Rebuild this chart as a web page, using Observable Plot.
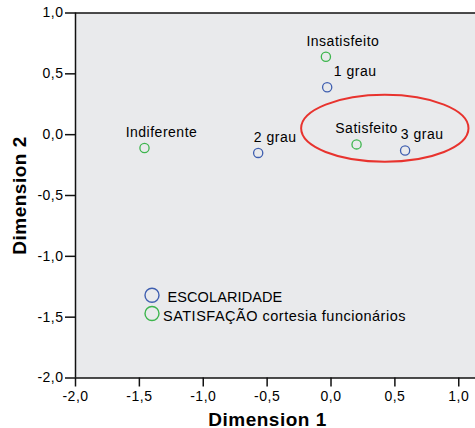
<!DOCTYPE html>
<html>
<head>
<meta charset="utf-8">
<script src="https://cdn.jsdelivr.net/npm/d3@7"></script>
<script src="https://cdn.jsdelivr.net/npm/@observablehq/plot@0.6"></script>
<style>
  html, body { margin: 0; padding: 0; background: #fff; }
  svg text { letter-spacing: 0.5px; }
</style>
</head>
<body>
<div id="chart"></div>
<script>
// ---- data ----
const escolaridadeLabels = ["1 grau", "2 grau", "3 grau"];
const escolaridadeDim1 = [-0.03, -0.57, 0.58];
const escolaridadeDim2 = [0.39, -0.15, -0.13];

const satisfacaoLabels = ["Insatisfeito", "Indiferente", "Satisfeito"];
const satisfacaoDim1 = [-0.04, -1.46, 0.20];
const satisfacaoDim2 = [0.64, -0.11, -0.08];

const seriesNames = ["ESCOLARIDADE", "SATISFAÇÃO cortesia funcionários"];
const xTicks = [-2.0, -1.5, -1.0, -0.5, 0.0, 0.5, 1.0];
const yTicks = [-2.0, -1.5, -1.0, -0.5, 0.0, 0.5, 1.0];
const xTitle = "Dimension 1";
const yTitle = "Dimension 2";

// highlighted region (annotation ellipse, data units)
const highlight = {cx: 0.425, cy: 0.048, rx: 0.655, ry: 0.275};

// ---- build ----
const blue = "#3f5fb0";
const green = "#3db54d";
const font = "'Liberation Sans', Arial, sans-serif";
const fmt = d => d.toFixed(1).replace(".", ",");

const points = [
  ...escolaridadeLabels.map((l, i) => ({label: l, d1: escolaridadeDim1[i], d2: escolaridadeDim2[i], series: seriesNames[0]})),
  ...satisfacaoLabels.map((l, i) => ({label: l, d1: satisfacaoDim1[i], d2: satisfacaoDim2[i], series: seriesNames[1]}))
];
const colorOf = s => s === seriesNames[0] ? blue : green;
const labelNudge = {"1 grau": 11, "Satisfeito": -7};

const chart = Plot.plot({
  width: 475,
  height: 428,
  marginLeft: 75,
  marginRight: 0,
  marginTop: 12.5,
  marginBottom: 50.5,
  style: {fontFamily: font, fontSize: "14px", color: "#000", background: "#fff"},
  x: {domain: [-2, 1.131], axis: null},
  y: {domain: [-2, 1], axis: null},
  marks: [
    Plot.frame({fill: "#e9eaec", stroke: null}),
    Plot.axisX({ticks: xTicks, tickFormat: fmt, tickSize: 9, tickPadding: 4, label: null, stroke: "#111", strokeWidth: 1.5, fontSize: 14, fill: "#000"}),
    Plot.axisY({ticks: yTicks, tickFormat: fmt, tickSize: 10, tickPadding: 2, label: null, stroke: "#111", strokeWidth: 1.5, fontSize: 14, fill: "#000"}),
    Plot.ruleX([-2], {stroke: "#111", strokeWidth: 1.5}),
    Plot.ruleY([-2], {stroke: "#111", strokeWidth: 1.5}),
    Plot.ruleY([1], {stroke: "#111", strokeWidth: 1.5}),
    Plot.dot(points, {x: "d1", y: "d2", r: 4.6, stroke: d => colorOf(d.series), strokeWidth: 1.3, fill: "none"}),
    Plot.text(points, {x: "d1", y: "d2", text: "label", textAnchor: "middle", lineAnchor: "bottom",
      dx: 17, dy: -11, fontSize: 14, fill: "#000"}),
    // legend
    Plot.dot([seriesNames[0]], {frameAnchor: "top-left", dx: 76.5, dy: 282.2, r: 7, stroke: blue, strokeWidth: 1.4, fill: "none"}),
    Plot.dot([seriesNames[1]], {frameAnchor: "top-left", dx: 76.5, dy: 300.5, r: 7, stroke: green, strokeWidth: 1.4, fill: "none"}),
    Plot.text([seriesNames[0]], {frameAnchor: "top-left", text: d => d, textAnchor: "start", lineAnchor: "bottom", dx: 92, dy: 289.2, fontSize: 14.5, fill: "#000"}),
    Plot.text([seriesNames[1]], {frameAnchor: "top-left", text: d => d, textAnchor: "start", lineAnchor: "bottom", dx: 87.5, dy: 307.5, fontSize: 14.5, fill: "#000"}),
    // axis titles
    Plot.text([xTitle], {frameAnchor: "bottom", text: d => d, textAnchor: "middle", lineAnchor: "bottom", dx: -8, dy: 47.5, fontSize: 19, fontWeight: "bold", fill: "#000"}),
    Plot.text([yTitle], {frameAnchor: "left", text: d => d, textAnchor: "middle", lineAnchor: "middle", rotate: -90, dx: -55.5, dy: 0, fontSize: 19, fontWeight: "bold", fill: "#000"})
  ]
});

// nudge labels that SPSS displaced; tighten legend caps
d3.select(chart).selectAll("text").each(function() {
  const t = this.textContent;
  if (labelNudge[t] !== undefined) {
    const tr = this.getAttribute("transform") || "";
    this.setAttribute("transform", tr + ` translate(${labelNudge[t]},0)`);
  }
  if (t === seriesNames[0]) this.style.letterSpacing = "0.1px";
});

// annotation ellipse from the chart's own scales
const sx = chart.scale("x"), sy = chart.scale("y");
const lin = (s, v) => s.range[0] + (v - s.domain[0]) / (s.domain[1] - s.domain[0]) * (s.range[1] - s.range[0]);
const px = lin(sx, highlight.cx), py = lin(sy, highlight.cy);
const prx = Math.abs(lin(sx, highlight.cx + highlight.rx) - px);
const pry = Math.abs(lin(sy, highlight.cy + highlight.ry) - py);
d3.select(chart).append("ellipse")
  .attr("cx", px).attr("cy", py).attr("rx", prx).attr("ry", pry)
  .attr("fill", "none").attr("stroke", "#e8332e").attr("stroke-width", 2);

document.getElementById("chart").appendChild(chart);
</script>
</body>
</html>
